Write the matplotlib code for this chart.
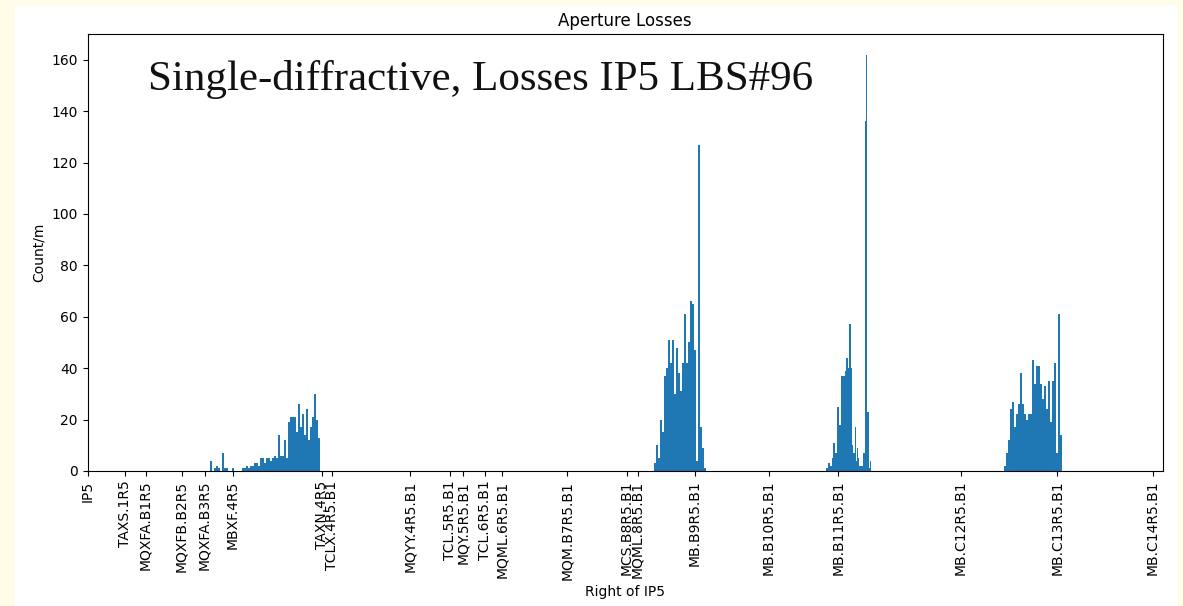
import matplotlib
matplotlib.use("Agg")
import matplotlib.pyplot as plt
from matplotlib.patches import Rectangle

# Elementos (posicion en m a la derecha de IP5)
elementos = ["IP5", "TAXS.1R5", "MQXFA.B1R5", "MQXFB.B2R5", "MQXFA.B3R5", "MBXF.4R5",
             "TAXN.4R5", "TCLX.4R5.B1", "MQYY.4R5.B1", "TCL.5R5.B1", "MQY.5R5.B1",
             "TCL.6R5.B1", "MQML.6R5.B1", "MQM.B7R5.B1", "MCS.B8R5.B1", "MQML.8R5.B1",
             "MB.B9R5.B1", "MB.B10R5.B1", "MB.B11R5.B1", "MB.C12R5.B1", "MB.C13R5.B1",
             "MB.C14R5.B1"]
posiciones = [0, 18.9, 29, 47, 58.5, 72.5, 117.2, 122.2, 161, 181, 187.7, 198.5,
              207.4, 239.7, 269.4, 274.9, 303.5, 340.5, 375.2, 436.4, 484.7, 532.4]

# Perdidas por grupo: inicio (m), ancho de bin (m), cuentas/m
inicio_1 = 60
ancho_1 = 1.0
perdidas_1 = [0, 4, 0, 1, 2, 1, 0, 7, 1, 1, 0, 0, 1, 0, 0, 0, 0, 1, 1, 2,
              1, 2, 2, 3, 3, 2, 5, 5, 3, 5, 5, 4, 5, 6, 5, 14, 6, 6, 12, 5,
              19, 21, 21, 21, 15, 26, 17, 22, 14, 24, 12, 17, 21, 30, 20, 13]

inicio_2 = 283
ancho_2 = 1.0
perdidas_2 = [3, 10, 5, 20, 15, 37, 40, 51, 42, 51, 30, 48, 38, 31, 42, 61,
              42, 50, 66, 65, 47, 4, 127, 17, 9, 1]

inicio_3 = 369
ancho_3 = 0.5
perdidas_3 = [1, 1, 3, 3, 2, 2, 5, 11, 11, 7, 7, 25, 25, 18, 18, 37, 37, 37,
              37, 39, 44, 44, 40, 57, 57, 40, 10, 7, 7, 17, 4, 9, 5, 2, 2, 2,
              2, 7, 7, 136, 162, 23, 23, 1, 4, 0]

inicio_4 = 458
ancho_4 = 1.0
perdidas_4 = [2, 7, 12, 24, 27, 17, 22, 26, 38, 26, 22, 20, 22, 22, 43, 34,
              41, 41, 34, 28, 33, 24, 35, 19, 35, 42, 7, 61, 14]

fig = plt.figure(figsize=(11.83, 6.06), dpi=100)
fig.patch.set_facecolor("#fffde8")
fondo = Rectangle((15 / 1183, 0), (1177 - 15) / 1183, 1 - 5 / 606,
                  transform=fig.transFigure, facecolor="white", edgecolor="none", zorder=-5)
fig.add_artist(fondo)

ax = fig.add_axes([87.5 / 1183, 1 - 471 / 606, (1163 - 87.5) / 1183, (471 - 34) / 606])

grupos = [(inicio_1, ancho_1, perdidas_1), (inicio_2, ancho_2, perdidas_2),
          (inicio_3, ancho_3, perdidas_3), (inicio_4, ancho_4, perdidas_4)]
for inicio, ancho, perdidas in grupos:
    xs = [inicio + i * ancho for i in range(len(perdidas))]
    ax.bar(xs, perdidas, width=ancho, align="edge", color="#1f77b4", linewidth=0)

ax.set_xlim(0, 537.5)
ax.set_ylim(0, 170)
ax.set_xticks(posiciones)
ax.set_xticklabels(elementos, rotation=90)
ax.set_xlabel("Right of IP5")
ax.set_ylabel("Count/m")
ax.set_title("Aperture Losses")

ax.text(0.056, 0.872, "Single-diffractive, Losses IP5 LBS#96", transform=ax.transAxes,
        family="Liberation Serif", fontsize=31, va="baseline", ha="left", color="#111111")

fig.savefig("out.png", dpi=100, facecolor=fig.get_facecolor())
